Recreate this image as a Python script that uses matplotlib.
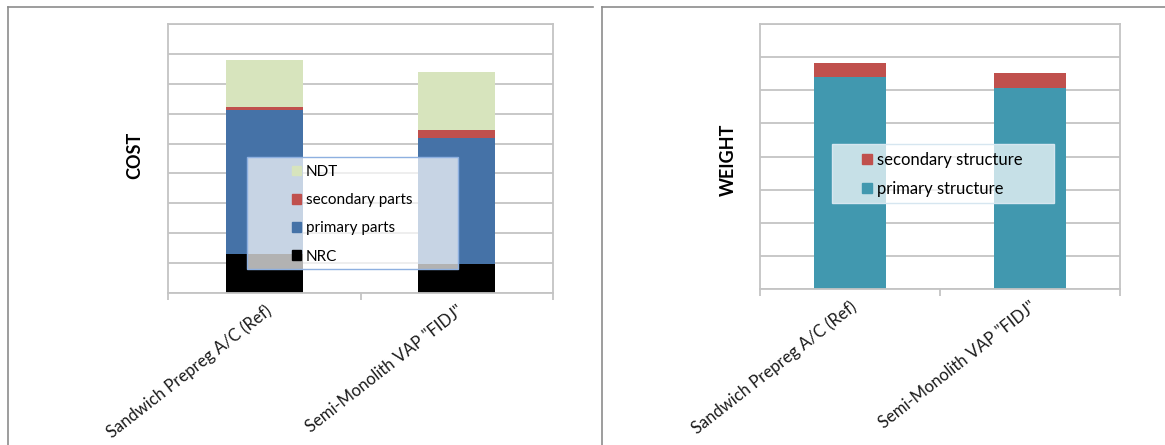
import matplotlib
matplotlib.use('Agg')
import matplotlib.pyplot as plt
from matplotlib.patches import Rectangle, Patch
from matplotlib.lines import Line2D

plt.rcParams['font.family'] = ['Lato', 'DejaVu Sans']

# --- Data (relative units, the original chart has no value scale) ---
configs = ['Sandwich Prepreg A/C (Ref)', 'Semi-Monolith VAP "FIDJ"']

cost_nrc = [1.30, 0.96]
cost_primary = [4.82, 4.23]
cost_secondary = [0.10, 0.26]
cost_ndt = [1.59, 1.93]

weight_primary = [6.41, 6.07]
weight_secondary = [0.42, 0.46]

# --- Colours ---
C_NRC = '#000000'
C_PRIM = '#4572a7'
C_SEC = '#c0504d'
C_NDT = '#d7e4bd'
C_WPRIM = '#4198af'
GRID = '#c4c4c4'
FRAME = '#8c8c8c'

W, H = 1165, 445


def fx(px):
    return px / W


def fy(py):
    return 1 - py / H


def style_axes(ax, ymax):
    x = range(len(configs))
    ax.set_xlim(-0.5, len(configs) - 0.5)
    ax.set_ylim(0, ymax)
    ax.set_yticks(range(ymax + 1))
    ax.tick_params(axis='y', length=0, labelleft=False)
    ax.yaxis.grid(True, color=GRID, linewidth=1.3)
    ax.set_axisbelow(True)
    for s in ax.spines.values():
        s.set_color(GRID)
        s.set_linewidth(1.3)
    ax.set_xticks(list(x))
    ax.set_xticklabels(configs, rotation=38, ha='right', rotation_mode='anchor',
                       fontsize=12, color='#1a1a1a')
    ax.tick_params(axis='x', which='major', length=0, pad=7)
    ax.set_xticks([-0.5, 0.5, 1.5], minor=True)
    ax.tick_params(axis='x', which='minor', length=5, width=1.3, color=GRID, direction='out')


fig = plt.figure(figsize=(W / 100, H / 100), dpi=100)

# panel frames
fig.add_artist(Line2D([fx(8), fx(8)], [fy(7), 0], color=FRAME, lw=1.2))
fig.add_artist(Line2D([fx(8), fx(593)], [fy(7), fy(7)], color=FRAME, lw=1.2))
fig.add_artist(Line2D([fx(602), fx(602)], [fy(7), 0], color=FRAME, lw=1.2))
fig.add_artist(Line2D([fx(602), 1], [fy(7), fy(7)], color=FRAME, lw=1.2))

# --- COST chart ---
ax1 = fig.add_axes([fx(168), fy(293), fx(553) - fx(168), fy(24) - fy(293)])
style_axes(ax1, 9)
x = range(len(configs))
bw = 0.4
b1 = [a for a in cost_nrc]
ax1.bar(x, cost_nrc, bw, color=C_NRC, zorder=2)
b2 = [a + b for a, b in zip(b1, cost_primary)]
ax1.bar(x, cost_primary, bw, bottom=b1, color=C_PRIM, zorder=2)
b3 = [a + b for a, b in zip(b2, cost_secondary)]
ax1.bar(x, cost_secondary, bw, bottom=b2, color=C_SEC, zorder=2)
ax1.bar(x, cost_ndt, bw, bottom=b3, color=C_NDT, zorder=2)

ax1.add_patch(Rectangle((0.205, 0.089), 0.548, 0.417, transform=ax1.transAxes,
                        facecolor=(1, 1, 1, 0.7), edgecolor='#8eb0e0', lw=1, zorder=3))
h1 = [Patch(color=C_NDT), Patch(color=C_SEC), Patch(color=C_PRIM), Patch(color=C_NRC)]
leg1 = ax1.legend(h1, ['NDT', 'secondary parts', 'primary parts', 'NRC'],
                  loc='upper left', bbox_to_anchor=(0.322, 0.476), frameon=False,
                  borderpad=0, borderaxespad=0, fontsize=11, handlelength=0.6,
                  handleheight=0.6, handletextpad=0.3, labelspacing=0.93)
leg1.set_zorder(4)
fig.text(fx(135), fy(155), 'COST', rotation=90, fontsize=13, fontweight='bold',
         ha='center', va='center')

# --- WEIGHT chart ---
ax2 = fig.add_axes([fx(760), fy(289), fx(1120) - fx(760), fy(24) - fy(289)])
style_axes(ax2, 8)
ax2.bar(x, weight_primary, bw, color=C_WPRIM, zorder=2)
ax2.bar(x, weight_secondary, bw, bottom=weight_primary, color=C_SEC, zorder=2)

ax2.add_patch(Rectangle((0.2, 0.325), 0.617, 0.222, transform=ax2.transAxes,
                        facecolor=(1, 1, 1, 0.7), edgecolor='#d6e6f0', lw=1, zorder=3))
h2 = [Patch(color=C_SEC), Patch(color=C_WPRIM)]
leg2 = ax2.legend(h2, ['secondary structure', 'primary structure'],
                  loc='upper left', bbox_to_anchor=(0.283, 0.518), frameon=False,
                  borderpad=0, borderaxespad=0, fontsize=12, handlelength=0.6,
                  handleheight=0.6, handletextpad=0.3, labelspacing=0.8)
leg2.set_zorder(4)
fig.text(fx(728), fy(160), 'WEIGHT', rotation=90, fontsize=13, fontweight='bold',
         ha='center', va='center')

fig.savefig('out.png', dpi=100)
